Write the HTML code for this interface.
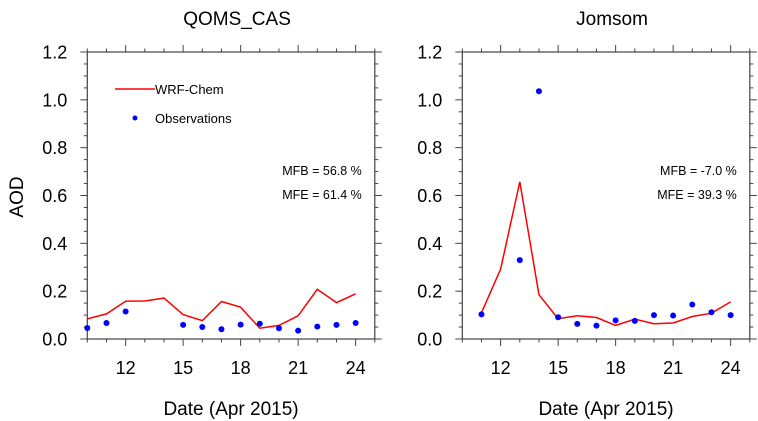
<!DOCTYPE html>
<html><head><meta charset="utf-8">
<style>
html,body{margin:0;padding:0;background:#fff;}
svg{display:block;font-family:"Liberation Sans",Arial,sans-serif;}
</style></head>
<body>
<svg id="chart" width="758" height="421" viewBox="0 0 758 421" xmlns="http://www.w3.org/2000/svg"></svg>
<script>
const days = [10,11,12,13,14,15,16,17,18,19,20,21,22,23,24];
const qomsModel = [0.084,0.105,0.158,0.159,0.171,0.102,0.077,0.157,0.133,0.045,0.057,0.097,0.208,0.152,0.189];
const qomsObs = [0.046,0.067,0.115,null,null,0.059,0.050,0.041,0.060,0.064,0.045,0.035,0.052,0.059,0.067];
const jomModel = [null,0.110,0.292,0.657,0.185,0.085,0.097,0.090,0.057,0.083,0.064,0.067,0.094,0.108,0.155];
const jomObs = [null,0.103,null,0.330,1.036,0.091,0.063,0.056,0.078,0.076,0.100,0.098,0.144,0.112,0.100];
const xTicks = [12,15,18,21,24];
const yTicks = [0,0.2,0.4,0.6,0.8,1.0,1.2];
const panelTitles = ["QOMS_CAS","Jomsom"];
const statsText = [["MFB = 56.8 %","MFE = 61.4 %"],["MFB = -7.0 %","MFE = 39.3 %"]];

const NS="http://www.w3.org/2000/svg";
const svgRoot=document.getElementById('chart');
function mk(tag,attrs,parent,text){const e=document.createElementNS(NS,tag);for(const k in attrs)e.setAttribute(k,attrs[k]);if(text!==undefined)e.textContent=text;(parent||svgRoot).appendChild(e);return e;}

const panels=[{x0:87.3,model:qomsModel,obs:qomsObs,legend:true},{x0:462.3,model:jomModel,obs:jomObs,legend:false}];
const W=287.5,plotTop=52,plotBot=339,xmin=10,xmax=25,ymax=1.2;
panels.forEach((p,i)=>{
  const g=mk('g',{});
  
  
  const sx=d=>p.x0+(d-xmin)/(xmax-xmin)*W;
  const sy=v=>plotBot-v/ymax*(plotBot-plotTop);
  const fr=mk('rect',{x:p.x0,y:plotTop,width:W,height:plotBot-plotTop,fill:'none',stroke:'#444','stroke-width':1.2},g);
  
  
  for(let d=10;d<=25;d++){
    const maj=xTicks.includes(d), L=maj?7:3.5, x=sx(d);
    mk('line',{x1:x,y1:plotBot,x2:x,y2:plotBot+L,stroke:'#444','stroke-width':1},g);
    mk('line',{x1:x,y1:plotTop,x2:x,y2:plotTop-L,stroke:'#444','stroke-width':1},g);
  }
  xTicks.forEach(d=>{
    const t=mk('text',{x:sx(d),y:374,'font-size':18,'text-anchor':'middle',fill:'#000'},g,String(d));
    
    
  });
  for(let k=0;k<=24;k++){
    const v=k*0.05, maj=k%4===0, L=maj?7:3.5, y=sy(v);
    mk('line',{x1:p.x0,y1:y,x2:p.x0-L,y2:y,stroke:'#444','stroke-width':1},g);
    mk('line',{x1:p.x0+W,y1:y,x2:p.x0+W+L,y2:y,stroke:'#444','stroke-width':1},g);
  }
  yTicks.forEach(v=>{
    const t=mk('text',{x:p.x0-20,y:sy(v)+6.5,'font-size':18,'text-anchor':'end',fill:'#000'},g,v.toFixed(1));
    
    
  });
  const tt=mk('text',{x:p.x0+W/2+6,y:25,'font-size':19,'text-anchor':'middle',fill:'#000'},g,panelTitles[i]);
  
  
  const xt=mk('text',{x:p.x0+W/2,y:415,'font-size':19,'text-anchor':'middle',fill:'#000'},g,'Date (Apr 2015)');
  
  
  const pts=[];
  days.forEach((d,j)=>{if(p.model[j]!==null)pts.push(sx(d).toFixed(1)+','+sy(p.model[j]).toFixed(1));});
  const pl=mk('polyline',{points:pts.join(' '),fill:'none',stroke:'#f00','stroke-width':1.5},g);
  
  
  days.forEach((d,j)=>{
    if(p.obs[j]===null)return;
    const c=mk('circle',{cx:sx(d),cy:sy(p.obs[j]),r:3,fill:'#00f'},g);
    
    
  });
  statsText[i].forEach((s,k)=>{
    const t=mk('text',{x:p.x0+W-13,y:175+k*24,'font-size':12.5,'text-anchor':'end',fill:'#000'},g,s);
    
    
  });
  if(p.legend){
    const lg=mk('g',{},g);
    
    
    mk('line',{x1:115,y1:89,x2:155,y2:89,stroke:'#f00','stroke-width':1.5},lg);
    const a=mk('text',{x:155,y:94,'font-size':13,fill:'#000'},lg,'WRF-Chem');
    
    
    mk('circle',{cx:135,cy:118,r:2.5,fill:'#00f'},lg);
    const b=mk('text',{x:155,y:123,'font-size':13,fill:'#000'},lg,'Observations');
    
    
  }
});
const yl=mk('text',{x:0,y:0,'font-size':19,'text-anchor':'middle',fill:'#000',transform:'translate(23,197) rotate(-90)'},svgRoot,'AOD');


</script>
</body></html>
